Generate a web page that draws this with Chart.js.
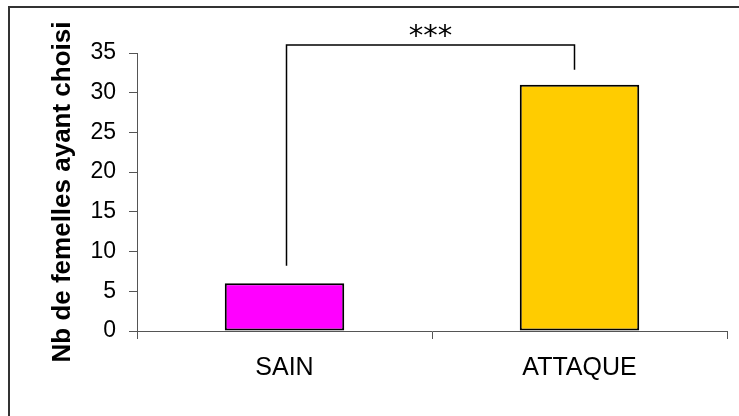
<!DOCTYPE html>
<html>
<head>
<meta charset="utf-8">
<script src="https://cdn.jsdelivr.net/npm/chart.js@4.4.1/dist/chart.umd.min.js"></script>
<style>
  html, body { margin: 0; padding: 0; background: #fff; }
  #wrap { width: 739px; height: 416px; position: relative; }
</style>
</head>
<body>
<div id="wrap"><canvas id="c" width="739" height="416"></canvas></div>
<script>
// ---- data ----
const categories = ['SAIN', 'ATTAQUE'];
const counts = [6, 31];
const barColors = ['#FF00FF', '#FFCC00'];
const yTicks = { min: 0, max: 35, step: 5 };
const yTitle = 'Nb de femelles ayant choisi';
// significance bracket, in data units (value axis)
const sigLabel = '***';
const bracketTop = 36;
const bracketEnds = [8.2, 32.9];

const overlay = {
  id: 'overlay',
  afterDraw(chart) {
    const ctx = chart.ctx;
    const x = chart.scales.x, y = chart.scales.y;
    ctx.save();
    // outer frame (only left and top edges visible)
    ctx.strokeStyle = '#333';
    ctx.lineWidth = 2;
    ctx.beginPath();
    ctx.moveTo(9, chart.height);
    ctx.lineTo(9, 7);
    ctx.lineTo(chart.width, 7);
    ctx.stroke();

    // bracket
    const x0 = x.getPixelForValue(0) + 2;
    const x1 = x.getPixelForValue(1) - 5;
    const yt = y.getPixelForValue(bracketTop);
    ctx.strokeStyle = '#000';
    ctx.lineWidth = 1.5;
    ctx.beginPath();
    ctx.moveTo(x0, y.getPixelForValue(bracketEnds[0]));
    ctx.lineTo(x0, yt);
    ctx.lineTo(x1, yt);
    ctx.lineTo(x1, y.getPixelForValue(bracketEnds[1]));
    ctx.stroke();

    // stars
    ctx.fillStyle = '#000';
    ctx.font = '29px "DejaVu Sans"';
    ctx.textAlign = 'center';
    ctx.textBaseline = 'alphabetic';
    const m = ctx.measureText(sigLabel);
    const cy = 31;
    const base = cy + (m.actualBoundingBoxAscent - m.actualBoundingBoxDescent) / 2;
    ctx.fillText(sigLabel, (x0 + x1) / 2, base);
    ctx.restore();
  }
};

new Chart(document.getElementById('c'), {
  type: 'bar',
  data: {
    labels: categories,
    datasets: [{
      data: counts,
      backgroundColor: barColors,
      borderColor: '#000',
      borderWidth: 2,
      borderSkipped: false,
      barPercentage: 0.405,
      categoryPercentage: 1
    }]
  },
  options: {
    responsive: false,
    animation: false,
    devicePixelRatio: 1,
    layout: { padding: { top: 53, right: 12, bottom: 0, left: 0 } },
    plugins: { legend: { display: false }, tooltip: { enabled: false } },
    scales: {
      x: {
        afterFit(s) { s.height = 85; },
        grid: { offset: true, drawOnChartArea: false, drawTicks: true, tickLength: 8, color: '#555' },
        border: { display: true, color: '#555', width: 1 },
        ticks: { color: '#000', padding: 14, font: { family: '"Liberation Sans", Arial', size: 25 } }
      },
      y: {
        min: yTicks.min, max: yTicks.max,
        afterFit(s) { s.width = 137; },
        grid: { drawOnChartArea: false, drawTicks: true, tickLength: 8, color: '#555' },
        border: { display: true, color: '#555', width: 1 },
        ticks: { stepSize: yTicks.step, color: '#000', padding: 13, font: { family: '"Liberation Sans", Arial', size: 23 } },
        title: {
          display: true, text: yTitle, color: '#000',
          padding: { top: 47, bottom: 0 },
          font: { family: '"Liberation Sans", Arial', size: 26, weight: 'bold' }
        }
      }
    }
  },
  plugins: [overlay]
});
</script>
</body>
</html>
